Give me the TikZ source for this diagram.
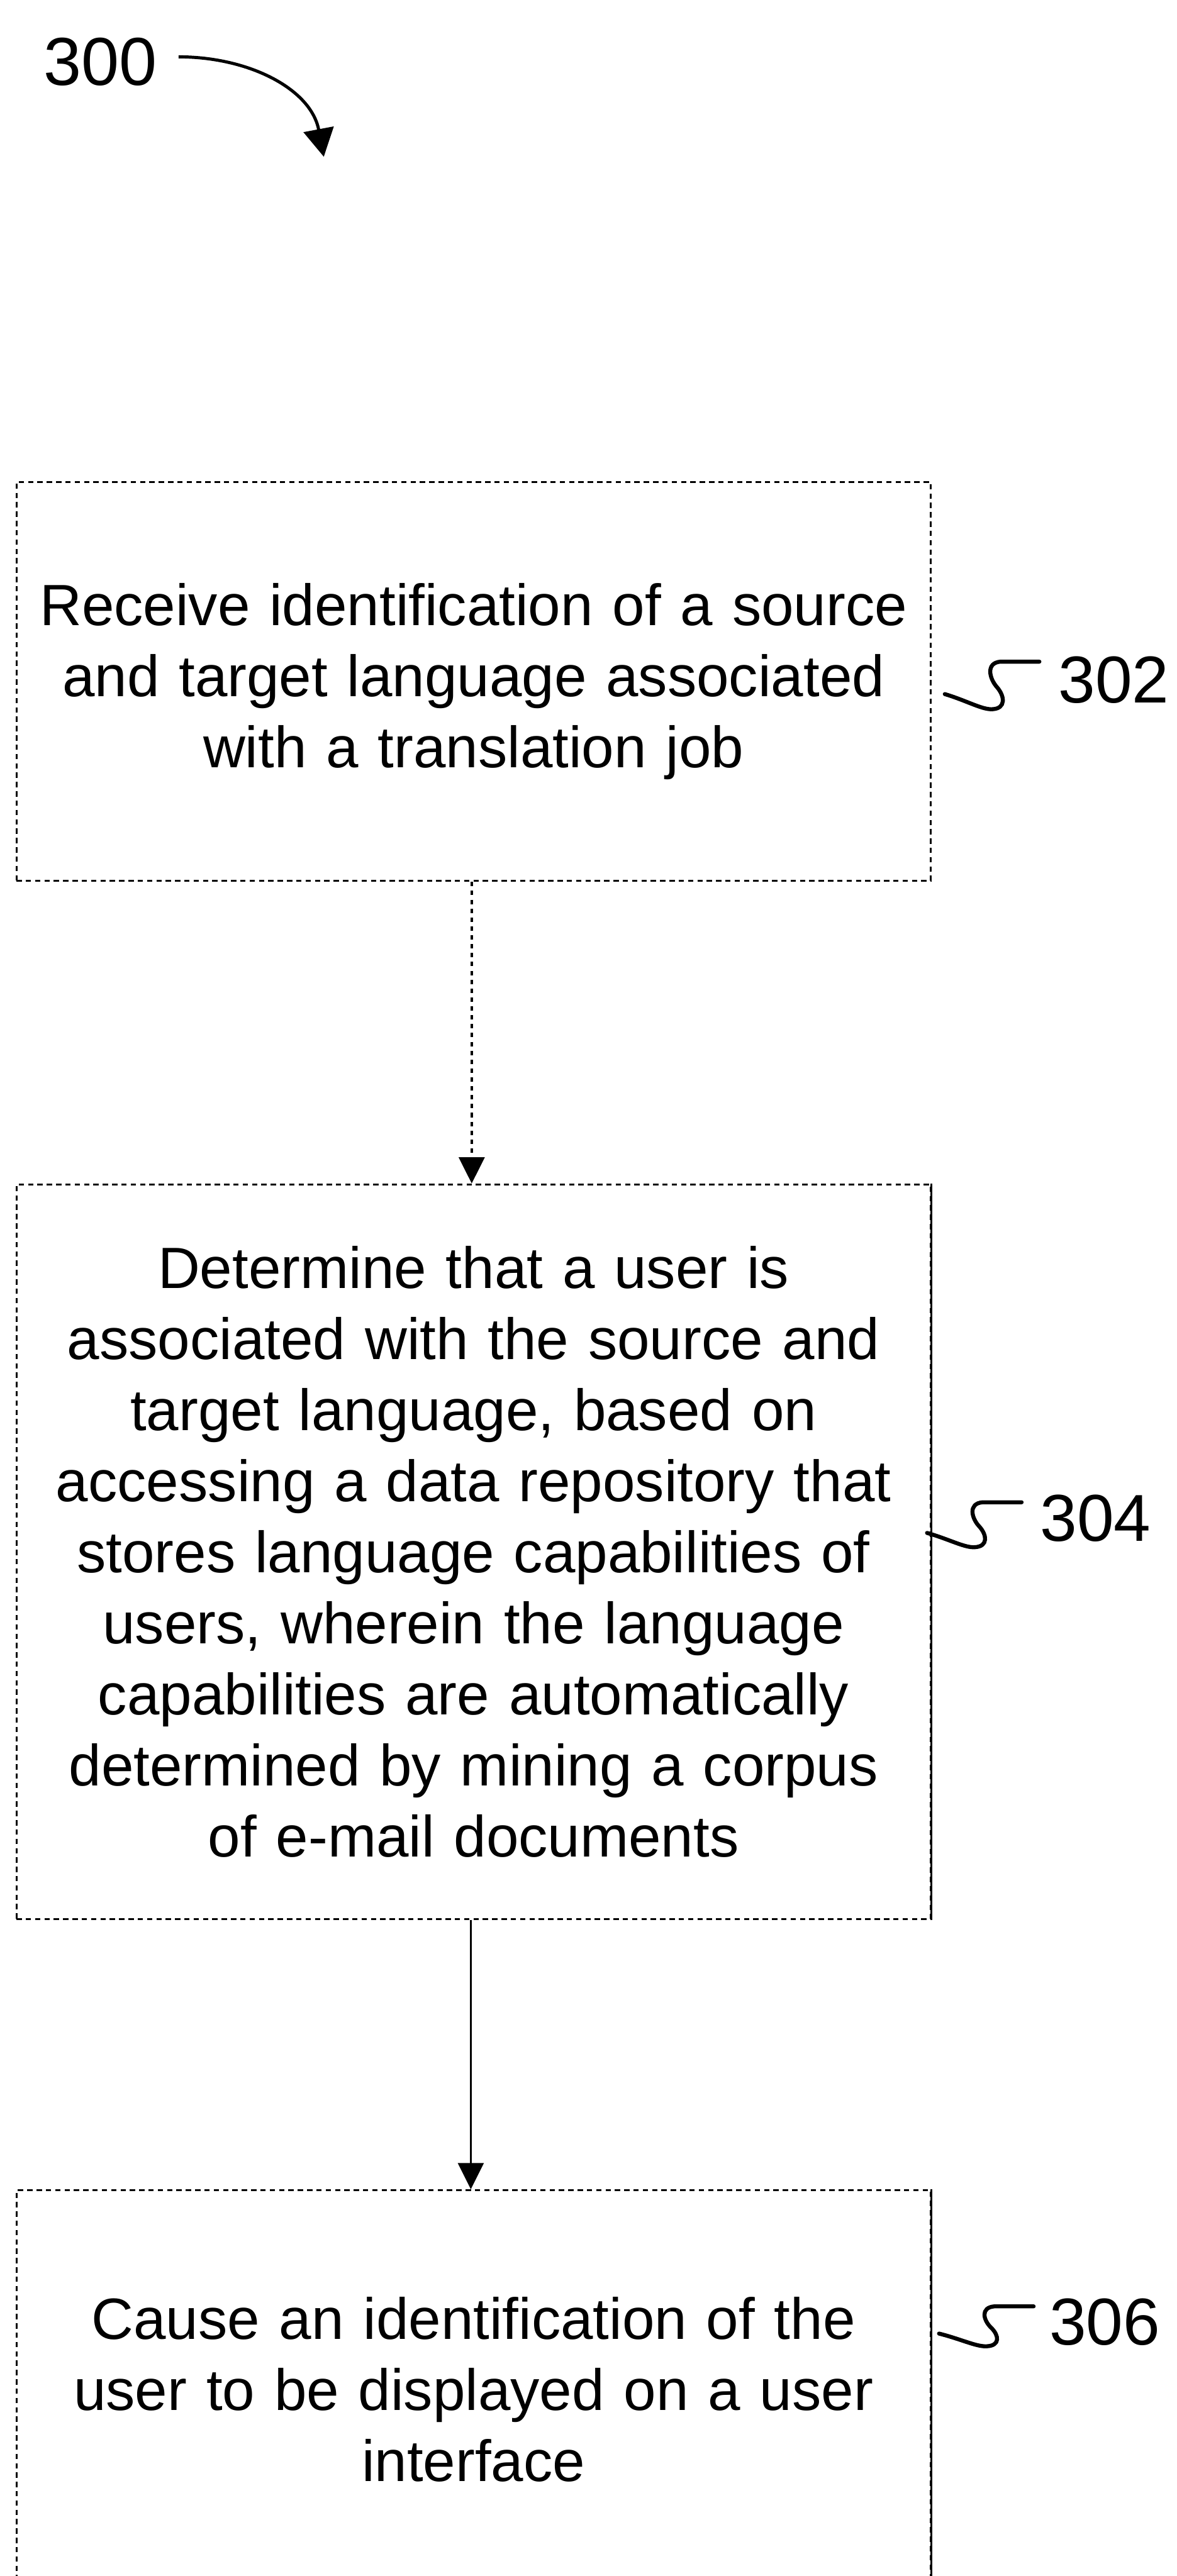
\documentclass[tikz,border=0pt]{standalone}
\usepackage{fontspec}
\setmainfont{Liberation Sans}
\usetikzlibrary{arrows.meta}
\begin{document}
\begin{tikzpicture}[
  stepbox/.style={draw, line width=0.04cm, dash pattern=on 0.12cm off 0.09cm,
    minimum width=20.58cm, text width=20cm, align=center, inner sep=0pt,
    font=\fontsize{37.3pt}{45.5pt}\selectfont},
  solidside/.style={draw, line width=0.04cm},
  reflabel/.style={anchor=base west, inner sep=0pt, font=\fontsize{42.5pt}{50pt}\selectfont},
  flowdashed/.style={line width=0.05cm, dash pattern=on 0.1cm off 0.1cm,
    -{Triangle[length=0.59cm,width=0.58cm]}},
  flowsolid/.style={line width=0.035cm, -{Triangle[length=0.59cm,width=0.58cm]}},
  squig/.pic={\draw[line width=0.09cm, line cap=round]
    (0,0) .. controls (0.5,-0.15) and (0.85,-0.36) .. (1.08,-0.34)
    .. controls (1.38,-0.32) and (1.35,-0.05) .. (1.18,0.15)
    .. controls (1.0,0.35) and (0.92,0.70) .. (1.25,0.73) -- (2.13,0.73);}
]
\useasboundingbox (0,0) rectangle (26.49,-58.01);

% reference number 300 and its arrow
\node[reflabel, font=\fontsize{43.5pt}{50pt}\selectfont] (l300) at (0.98,-1.92) {300};
\coordinate (a300s) at (4.02,-1.28);
\coordinate (a300e) at (7.29,-3.53);
\draw[line width=0.07cm, -{Triangle[length=0.63cm,width=0.68cm]}]
  (a300s) .. controls (5.6,-1.28) and (7.0,-2.0) .. (a300e);

% boxes
\node[stepbox, minimum height=8.99cm] (b1) at (10.66,-15.345)
  {Receive identification of a source\\ and target language associated\\ with a translation job};
\node[stepbox, minimum height=16.55cm] (b2) at (10.66,-34.945)
  {Determine that a user is\\ associated with the source and\\ target language, based on\\
   accessing a data repository that\\ stores language capabilities of\\ users, wherein the language\\
   capabilities are automatically\\ determined by mining a corpus\\ of e-mail documents};
\node[stepbox, minimum height=8.97cm] (b3) at (10.66,-53.805)
  {Cause an identification of the\\ user to be displayed on a user\\ interface};
\draw[solidside] (b2.north east) -- (b2.south east);
\draw[solidside] (b3.north east) -- (b3.south east);

% connectors
\draw[flowdashed] ([xshift=-0.04cm]b1.south) -- ([xshift=-0.04cm]b2.north);
\draw[flowsolid] ([xshift=-0.06cm]b2.south) -- ([xshift=-0.06cm]b3.north);

% reference labels with squiggles
\pic at (21.27,-15.63) {squig};
\node[reflabel] (l302) at (23.82,-15.82) {302};
\pic[yscale=0.945] at (20.87,-34.52) {squig};
\node[reflabel] (l304) at (23.41,-34.70) {304};
\pic[yscale=0.84] at (21.14,-52.55) {squig};
\node[reflabel] (l306) at (23.62,-52.81) {306};
\end{tikzpicture}
\end{document}
